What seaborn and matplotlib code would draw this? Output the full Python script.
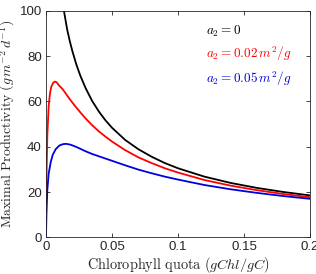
import matplotlib
matplotlib.use("Agg")
import matplotlib.pyplot as plt
import seaborn as sns

# chlorophyll quota (gChl/gC) and maximal productivity
x_a0 = [0.012, 0.0136, 0.016, 0.018, 0.02, 0.023, 0.026, 0.03, 0.035, 0.04, 0.045,
        0.05, 0.06, 0.07, 0.08, 0.09, 0.1, 0.12, 0.14, 0.16, 0.18, 0.2]
y_a0 = [105, 100, 91.9, 86.7, 82.2, 76.3, 71.4, 65.9, 60.2, 55.6, 51.7,
        48.4, 43.0, 38.9, 35.6, 32.8, 30.5, 26.8, 24.0, 21.8, 20.0, 18.5]

x_a002 = [0, 0.0003, 0.001, 0.002, 0.003, 0.004, 0.0055, 0.0068, 0.008, 0.01, 0.0125,
          0.015, 0.018, 0.02, 0.023, 0.026, 0.03, 0.035, 0.04, 0.045, 0.05, 0.06,
          0.07, 0.08, 0.09, 0.1, 0.12, 0.14, 0.16, 0.18, 0.2]
y_a002 = [0, 25, 45, 58, 63.5, 66.5, 68.3, 68.8, 68.5, 67.0, 65.5,
          63.5, 61.0, 59.5, 57.3, 55.2, 52.5, 49.5, 46.8, 44.5, 42.3, 38.5,
          35.3, 32.8, 30.5, 28.6, 25.3, 22.8, 20.8, 19.1, 17.7]

x_a005 = [0, 0.0003, 0.001, 0.002, 0.0035, 0.005, 0.0073, 0.01, 0.0125, 0.015, 0.018,
          0.02, 0.023, 0.026, 0.03, 0.035, 0.04, 0.045, 0.05, 0.06, 0.07, 0.08,
          0.09, 0.1, 0.12, 0.14, 0.16, 0.18, 0.2]
y_a005 = [0, 10, 21, 28, 33, 36.3, 38.9, 40.5, 41.1, 41.3, 41.0,
          40.6, 39.9, 39.1, 38.0, 36.8, 35.8, 34.8, 33.8, 31.8, 29.9, 28.3,
          26.8, 25.5, 23.1, 21.2, 19.6, 18.2, 17.0]

labels = [r"$a_2 = 0$", r"$a_2 = 0.02\,m^2/g$", r"$a_2 = 0.05\,m^2/g$"]
colors = ["black", "#ff0000", "#0000e0"]

sns.set_style("ticks")
plt.rcParams["mathtext.fontset"] = "cm"
plt.rcParams["font.family"] = ["Liberation Sans", "DejaVu Sans"]

fig = plt.figure(figsize=(3.16, 2.74), dpi=100)
ax = fig.add_axes([0.1456, 0.134, 0.8354, 0.826])

for xs, ys, lab, col in zip([x_a0, x_a002, x_a005], [y_a0, y_a002, y_a005], labels, colors):
    sns.lineplot(x=xs, y=ys, color=col, lw=1.3, label=lab, ax=ax)

ax.set_xlim(0, 0.2)
ax.set_ylim(0, 100)
ax.set_xticks([0, 0.05, 0.1, 0.15, 0.2])
ax.set_xticklabels(["0", "0.05", "0.1", "0.15", "0.2"])
ax.set_yticks([0, 20, 40, 60, 80, 100])
ax.set_yticklabels(["0", "20", "40", "60", "80", "100"])
ax.tick_params(direction="in", length=3, width=0.6, top=True, right=True,
               labelsize=9.5, colors="#262626", pad=3)
for s in ax.spines.values():
    s.set_color("#262626")
    s.set_linewidth(0.6)

ax.set_xlabel(r"$\mathrm{Chlorophyll\ quota}\ (gChl/gC)$", fontsize=10.3, color="#262626", labelpad=1)
ax.set_ylabel(r"$\mathrm{Maximal\ Productivity}\ (g\,m^{-2}\,d^{-1})$", fontsize=10.0, color="#262626", labelpad=2)

leg = ax.legend(loc="upper left", bbox_to_anchor=(0.56, 0.995), frameon=False,
                handlelength=0, handletextpad=0, labelcolor="linecolor",
                fontsize=9.5, labelspacing=0.45)
for h in leg.legend_handles:
    h.set_visible(False)

fig.savefig("out.png", dpi=100)
